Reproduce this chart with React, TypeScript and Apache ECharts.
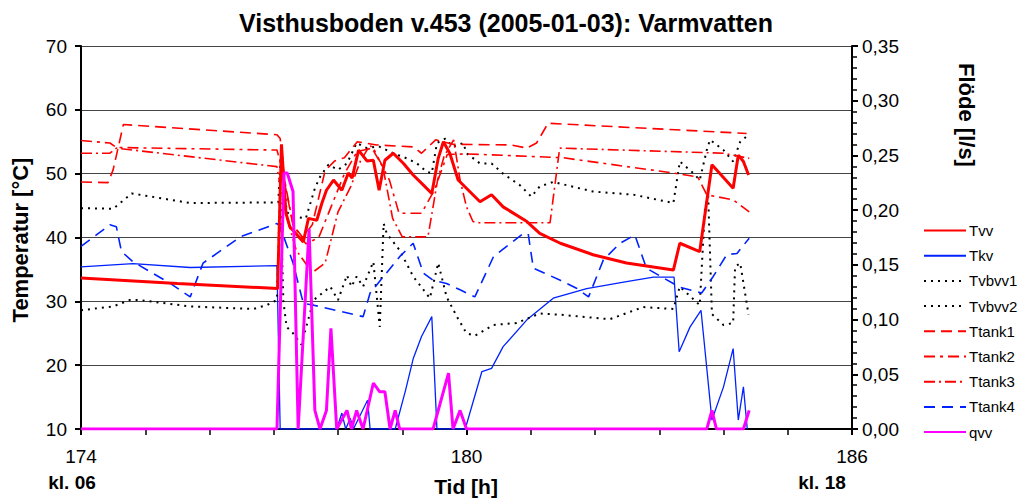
import React, { useEffect, useRef } from "react";
import * as echarts from "echarts";

const TITLE = "Visthusboden v.453 (2005-01-03): Varmvatten";

// [time h, °C]
const tvv: number[][] = [
  [174.0, 33.65], [175.5, 32.8], [177.06, 32.0], [177.12, 54.6], [177.19, 43.8], [177.25, 41.7],
  [177.46, 39.3], [177.54, 43.0], [177.67, 42.7], [177.75, 45.4], [177.82, 47.4], [177.93, 49.0],
  [178.06, 47.4], [178.16, 50.1], [178.22, 49.3], [178.32, 53.7], [178.45, 52.0], [178.55, 52.1],
  [178.64, 47.4], [178.73, 52.1], [178.86, 53.2], [179.02, 51.6], [179.17, 49.8], [179.33, 48.2],
  [179.46, 46.9], [179.56, 52.4], [179.64, 55.0], [179.74, 53.2], [179.87, 49.0], [180.05, 47.2],
  [180.21, 45.6], [180.39, 46.7], [180.57, 44.8], [180.94, 42.5], [181.14, 40.65], [181.46, 39.1],
  [181.97, 37.3], [182.49, 36.0], [183.22, 34.9], [183.32, 39.1], [183.63, 37.8], [183.82, 51.4],
  [184.15, 47.7], [184.23, 52.9], [184.31, 51.9], [184.39, 49.8]
];

const tkv: number[][] = [
  [174.0, 35.4], [174.81, 35.9], [175.7, 35.3], [177.05, 35.6], [177.1, 10.0], [177.98, 10.0],
  [178.06, 12.5], [178.12, 10.0], [178.19, 11.7], [178.24, 10.0], [178.46, 14.5], [178.5, 10.0],
  [178.89, 10.0], [179.05, 16.0], [179.17, 21.0], [179.3, 24.5], [179.46, 27.6], [179.54, 10.0],
  [179.98, 10.0], [180.24, 19.0], [180.39, 19.5], [180.57, 22.9], [180.94, 27.1], [181.35, 30.5],
  [181.87, 32.0], [182.49, 33.1], [182.91, 33.8], [183.23, 33.8], [183.31, 22.1], [183.48, 26.0],
  [183.65, 28.6], [183.82, 11.4], [184.0, 16.6], [184.15, 22.6], [184.23, 11.4], [184.31, 16.6],
  [184.37, 10.0]
];

const tvbvv1: number[][] = [
  [174.0, 44.6], [174.5, 44.5], [174.79, 46.9], [175.7, 45.4], [177.07, 45.5], [177.12, 54.5],
  [177.2, 44.0], [177.3, 43.3], [177.5, 43.0], [177.64, 47.7], [177.72, 49.5], [177.85, 51.4],
  [178.0, 50.6], [178.14, 51.6], [178.29, 54.8], [178.45, 54.0], [178.63, 54.3], [178.86, 53.2],
  [179.07, 52.4], [179.23, 51.6], [179.38, 50.3], [179.46, 50.1], [179.54, 54.8], [179.67, 55.5],
  [179.79, 54.2], [179.95, 54.8], [180.0, 53.2], [180.21, 51.6], [180.39, 51.6], [180.57, 50.0],
  [180.83, 48.2], [181.01, 46.4], [181.14, 48.0], [181.35, 48.7], [181.97, 47.2], [182.6, 46.7],
  [183.22, 45.4], [183.32, 51.9], [183.53, 50.1], [183.63, 49.0], [183.74, 53.7], [183.79, 55.3],
  [184.0, 53.7], [184.15, 51.9], [184.26, 55.0], [184.39, 56.1]
];

const tvbvv2: number[][] = [
  [174.0, 28.6], [174.5, 29.2], [174.76, 30.2], [174.92, 30.2], [175.7, 29.2], [176.68, 28.8],
  [176.89, 29.4], [177.05, 30.2], [177.1, 48.0], [177.15, 30.0], [177.2, 26.0], [177.3, 25.0],
  [177.43, 23.2], [177.62, 30.2], [177.88, 32.3], [178.0, 30.2], [178.14, 34.1], [178.21, 32.3],
  [178.29, 33.9], [178.39, 32.3], [178.55, 36.2], [178.65, 26.0], [178.71, 42.2], [178.76, 40.6],
  [178.96, 38.0], [179.17, 33.9], [179.43, 30.5], [179.56, 36.0], [179.69, 30.7], [179.85, 27.6],
  [180.0, 25.0], [180.13, 24.6], [180.42, 26.3], [180.78, 26.6], [181.14, 28.1], [181.46, 27.9],
  [182.23, 27.2], [182.75, 29.1], [183.22, 28.8], [183.32, 32.3], [183.63, 29.4], [183.71, 44.3],
  [183.76, 47.0], [183.82, 28.0], [184.0, 26.3], [184.15, 26.6], [184.18, 35.4], [184.26, 36.0],
  [184.39, 27.9]
];

const ttank1: number[][] = [
  [174.0, 48.7], [174.42, 48.6], [174.5, 50.6], [174.66, 57.7], [177.05, 56.1], [177.1, 55.5],
  [177.18, 48.0], [177.3, 42.0], [177.45, 40.0], [177.6, 42.0], [177.8, 50.5], [177.95, 52.0],
  [178.1, 52.5], [178.3, 55.0], [178.6, 54.5], [179.17, 54.2], [179.3, 53.2], [179.52, 55.3],
  [179.79, 54.6], [180.7, 54.5], [180.94, 54.0], [181.09, 54.8], [181.27, 57.9], [184.36, 56.3]
];

const ttank2: number[][] = [
  [174.0, 55.2], [174.45, 54.8], [174.55, 54.1], [177.05, 53.7], [177.15, 50.0], [177.3, 42.0],
  [177.5, 39.0], [177.7, 40.0], [177.9, 45.0], [178.1, 50.0], [178.3, 53.5], [178.55, 54.0],
  [178.8, 49.0], [178.95, 43.8], [179.3, 43.8], [179.5, 47.4], [179.7, 53.0], [180.0, 53.1],
  [181.5, 52.5], [183.22, 50.1], [183.6, 49.5], [183.74, 46.7], [184.15, 45.9], [184.4, 44.0]
];

const ttank3: number[][] = [
  [174.0, 53.2], [174.45, 53.2], [174.55, 54.0], [177.05, 51.1], [177.15, 45.0], [177.35, 38.0],
  [177.6, 34.5], [177.8, 36.0], [178.0, 44.0], [178.2, 48.0], [178.35, 52.0], [178.5, 54.5],
  [178.7, 51.0], [178.85, 43.0], [179.0, 40.1], [179.4, 40.1], [179.55, 49.0], [179.65, 52.7],
  [179.8, 55.3], [179.9, 49.0], [180.0, 44.8], [180.1, 42.5], [180.2, 42.3], [181.3, 42.3],
  [181.45, 54.0], [183.4, 53.4], [184.0, 53.2], [184.4, 52.4]
];

const ttank4: number[][] = [
  [174.0, 38.6], [174.45, 42.0], [174.55, 41.7], [174.63, 37.8], [174.81, 36.2], [175.39, 32.8],
  [175.7, 30.7], [175.9, 36.0], [176.48, 40.1], [177.05, 42.2], [177.1, 41.7], [177.3, 36.0],
  [177.46, 29.7], [177.62, 29.4], [178.39, 27.6], [178.5, 31.3], [178.96, 37.0], [179.17, 39.1],
  [179.33, 34.4], [179.48, 33.3], [179.69, 32.8], [179.9, 31.8], [180.13, 30.7], [180.42, 37.0],
  [180.88, 40.6], [180.96, 40.6], [181.04, 35.2], [181.46, 33.3], [181.72, 32.0], [181.9, 30.7],
  [182.13, 36.5], [182.39, 39.1], [182.62, 40.4], [182.8, 35.2], [183.32, 32.2], [183.66, 31.3],
  [183.84, 33.9], [184.05, 37.3], [184.21, 37.5], [184.4, 39.9]
];

// [time h, l/s]
const qvv: number[][] = [
  [174.0, 0], [177.05, 0], [177.16, 0.234], [177.21, 0.234], [177.3, 0.217], [177.38, 0],
  [177.55, 0.183], [177.64, 0.017], [177.72, 0], [177.82, 0.017], [177.89, 0.092], [177.98, 0],
  [178.14, 0.017], [178.21, 0], [178.29, 0.017], [178.39, 0], [178.55, 0.042], [178.65, 0.034],
  [178.73, 0.034], [178.81, 0], [178.89, 0.017], [178.96, 0], [179.48, 0], [179.72, 0.051],
  [179.79, 0], [179.9, 0.017], [180.0, 0], [183.74, 0], [183.82, 0.017], [183.89, 0],
  [184.31, 0], [184.4, 0.017]
];

const FONT = "'Liberation Sans', Arial, sans-serif";

export default function App() {
  const ref = useRef<HTMLDivElement>(null);
  useEffect(() => {
    if (!ref.current) return;
    const chart = echarts.init(ref.current, null, { renderer: "svg" });
    const mk = (name: string, data: number[][], color: string, width: number, type: any, yIdx = 0) => ({
      name,
      type: "line",
      data,
      yAxisIndex: yIdx,
      showSymbol: false,
      symbol: "none",
      legendIcon: "none",
      lineStyle: { color, width, type, cap: "butt" },
      itemStyle: { color },
      z: name === "Tvv" || name === "qvv" ? 5 : 3,
    });
    chart.setOption({
      animation: false,
      textStyle: { fontFamily: FONT },
      title: {
        text: TITLE,
        left: 501,
        top: 5,
        textAlign: "center",
        textStyle: { fontFamily: FONT, fontSize: 25, fontWeight: "bold", color: "#000" },
      },
      grid: { left: 81, right: 166, top: 46, bottom: 72, containLabel: false },
      legend: {
        orient: "vertical",
        left: 918,
        top: 218,
        itemWidth: 42,
        itemHeight: 14,
        itemGap: 10.2,
        itemStyle: { opacity: 0, borderWidth: 0 },
        textStyle: { fontFamily: FONT, fontSize: 15, color: "#000", padding: [0, 0, 0, -2] },
        data: ["Tvv", "Tkv", "Tvbvv1", "Tvbvv2", "Ttank1", "Ttank2", "Ttank3", "Ttank4", "qvv"],
      },
      xAxis: {
        type: "value",
        min: 174,
        max: 186,
        interval: 6,
        axisLine: { show: true, onZero: false, lineStyle: { color: "#000", width: 2 } },
        axisTick: { show: true, length: 6, lineStyle: { color: "#000", width: 2 } },
        minorTick: { show: true, splitNumber: 6, length: 6, lineStyle: { color: "#000", width: 1.5 } },
        splitLine: { show: false },
        axisLabel: { fontFamily: FONT, fontSize: 19, color: "#000", margin: 18 },
      },
      yAxis: [
        {
          type: "value",
          min: 10,
          max: 70,
          interval: 10,
          position: "left",
          axisLine: { show: true, lineStyle: { color: "#000", width: 2 } },
          axisTick: { show: true, length: 6, lineStyle: { color: "#000", width: 2 } },
          splitLine: { show: true, lineStyle: { color: "#444", width: 1.2 } },
          axisLabel: { fontFamily: FONT, fontSize: 19, color: "#000", margin: 14 },
        },
        {
          type: "value",
          min: 0,
          max: 0.35,
          interval: 0.05,
          position: "right",
          axisLine: { show: true, lineStyle: { color: "#000", width: 2 } },
          axisTick: { show: true, length: 6, lineStyle: { color: "#000", width: 2 } },
          minorTick: { show: true, splitNumber: 5, length: 5, lineStyle: { color: "#000", width: 1.5 } },
          splitLine: { show: false },
          axisLabel: {
            fontFamily: FONT,
            fontSize: 19,
            color: "#000",
            margin: 10,
            formatter: (v: number) => v.toFixed(2).replace(".", ","),
          },
        },
      ],
      graphic: [
        {
          type: "text",
          x: 20,
          y: 240,
          rotation: Math.PI / 2,
          style: { text: "Temperatur [°C]", font: `bold 22px ${FONT}`, fill: "#000", textAlign: "center", textVerticalAlign: "middle" },
        },
        {
          type: "text",
          x: 966,
          y: 115,
          rotation: -Math.PI / 2,
          style: { text: "Flöde [l/s]", font: `bold 22px ${FONT}`, fill: "#000", textAlign: "center", textVerticalAlign: "middle" },
        },
        {
          type: "text",
          x: 72,
          y: 482,
          style: { text: "kl. 06", font: `bold 19px ${FONT}`, fill: "#000", textAlign: "center", textVerticalAlign: "middle" },
        },
        {
          type: "text",
          x: 822,
          y: 482,
          style: { text: "kl. 18", font: `bold 19px ${FONT}`, fill: "#000", textAlign: "center", textVerticalAlign: "middle" },
        },
        {
          type: "text",
          x: 466,
          y: 486,
          style: { text: "Tid [h]", font: `bold 21px ${FONT}`, fill: "#000", textAlign: "center", textVerticalAlign: "middle" },
        },
      ],
      series: [
        mk("Tvv", tvv, "#ff0000", 3, "solid"),
        mk("Tkv", tkv, "#0022ff", 1.3, "solid"),
        mk("Tvbvv1", tvbvv1, "#000000", 2, [2, 5]),
        mk("Tvbvv2", tvbvv2, "#000000", 2, [2, 5]),
        mk("Ttank1", ttank1, "#ff0000", 1.6, [11, 6]),
        mk("Ttank2", ttank2, "#ff0000", 1.6, [11, 5, 3, 5]),
        mk("Ttank3", ttank3, "#ff0000", 1.6, [11, 4, 2, 4]),
        mk("Ttank4", ttank4, "#0022ff", 1.6, [11, 7]),
        mk("qvv", qvv, "#ff00ff", 3, "solid", 1),
      ],
    });
    return () => chart.dispose();
  }, []);
  return <div ref={ref} style={{ width: 1018, height: 501, position: "absolute", left: 0, top: 0, background: "#fff" }} />;
}
